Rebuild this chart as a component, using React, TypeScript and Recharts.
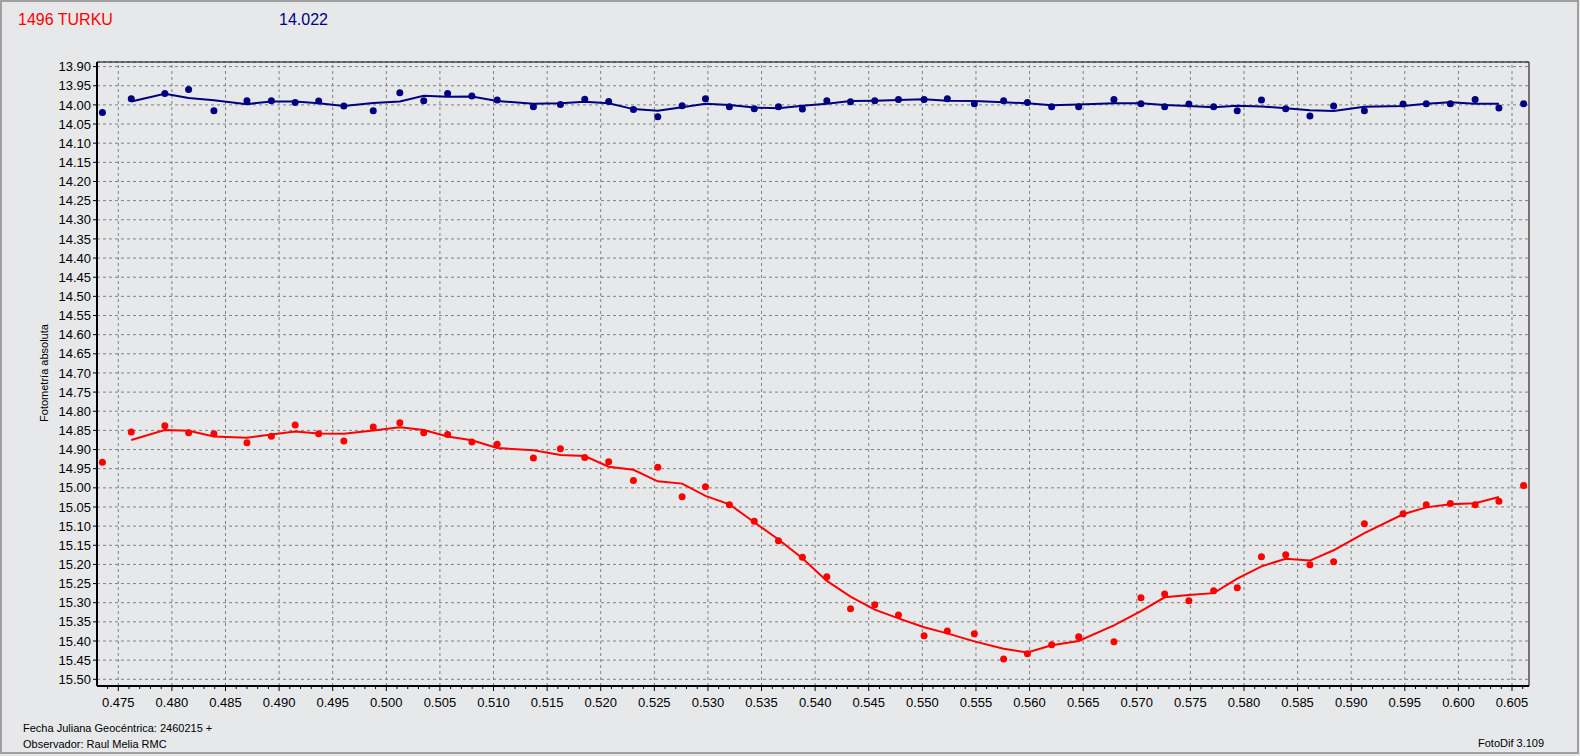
import {
  ComposedChart,
  Scatter,
  Line,
  XAxis,
  YAxis,
  CartesianGrid,
  ReferenceLine,
  ReferenceArea,
} from "recharts";

// Fractional Julian date (2460215 +) of every frame
const jd = [
  0.47352, 0.47621, 0.47934, 0.48156, 0.48392, 0.487, 0.48928, 0.4915, 0.49369, 0.49604,
  0.49878, 0.50126, 0.50349, 0.50572, 0.50798, 0.51034, 0.51372, 0.51624, 0.51851, 0.52074,
  0.52305, 0.52532, 0.52759, 0.52977, 0.532, 0.53432, 0.53658, 0.53881, 0.54109, 0.5433,
  0.54556, 0.54777, 0.55016, 0.55233, 0.55485, 0.55758, 0.5598, 0.56206, 0.56458, 0.56787,
  0.57039, 0.5726, 0.57486, 0.57717, 0.57937, 0.58163, 0.58389, 0.58615, 0.58836, 0.59123,
  0.59484, 0.597, 0.59925, 0.60156, 0.60378, 0.60608,
];

// 1496 Turku, absolute magnitude
const turkuMag = [
  14.933, 14.854, 14.838, 14.856, 14.859, 14.882, 14.865, 14.836, 14.859, 14.878,
  14.841, 14.83, 14.856, 14.861, 14.88, 14.886, 14.922, 14.898, 14.921, 14.932,
  14.981, 14.946, 15.023, 14.997, 15.044, 15.087, 15.138, 15.181, 15.232, 15.316,
  15.305, 15.332, 15.386, 15.374, 15.381, 15.447, 15.433, 15.41, 15.389, 15.402,
  15.287, 15.277, 15.295, 15.269, 15.261, 15.18, 15.175, 15.201, 15.193, 15.094,
  15.068, 15.044, 15.041, 15.044, 15.035, 14.994,
];

// comparison star (14.022)
const compMag = [
  14.02, 13.984, 13.97, 13.96, 14.015, 13.989, 13.989, 13.994, 13.99, 14.003,
  14.015, 13.968, 13.989, 13.97, 13.977, 13.987, 14.005, 13.999, 13.985, 13.991,
  14.012, 14.031, 14.002, 13.984, 14.005, 14.01, 14.005, 14.011, 13.989, 13.992,
  13.989, 13.986, 13.986, 13.984, 13.997, 13.989, 13.994, 14.005, 14.005, 13.986,
  13.997, 14.005, 13.998, 14.005, 14.015, 13.987, 14.01, 14.029, 14.003, 14.015,
  13.998, 13.997, 13.997, 13.986, 14.008, 13.997,
];

// smoothed curves, drawn from the 2nd to the next-to-last frame
const turkuSmooth = [
  14.875, 14.849, 14.851, 14.866, 14.869, 14.861, 14.853, 14.858, 14.859,
  14.85, 14.842, 14.849, 14.866, 14.876, 14.896, 14.902, 14.914, 14.917, 14.945,
  14.953, 14.983, 14.989, 15.021, 15.043, 15.09, 15.135, 15.184, 15.243, 15.284,
  15.318, 15.341, 15.364, 15.38, 15.401, 15.42, 15.43, 15.411, 15.4, 15.359,
  15.322, 15.286, 15.28, 15.275, 15.237, 15.205, 15.185, 15.19, 15.163, 15.118,
  15.069, 15.051, 15.043, 15.04, 15.024,
];
const compSmooth = [
  13.991, 13.971, 13.982, 13.988, 13.998, 13.991, 13.991, 13.996, 14.003,
  13.995, 13.991, 13.976, 13.979, 13.978, 13.99, 13.997, 13.996, 13.992, 13.996,
  14.011, 14.015, 14.006, 13.997, 14.0, 14.007, 14.009, 14.002, 13.997, 13.99,
  13.989, 13.987, 13.985, 13.989, 13.99, 13.993, 13.996, 14.001, 13.999, 13.996,
  13.996, 14.0, 14.003, 14.006, 14.002, 14.004, 14.009, 14.014, 14.016, 14.005,
  14.003, 13.997, 13.993, 13.997, 13.997,
];

const jdLabels = [
  0.475, 0.48, 0.485, 0.49, 0.495, 0.5, 0.505, 0.51, 0.515, 0.52, 0.525, 0.53, 0.535, 0.54,
  0.545, 0.55, 0.555, 0.56, 0.565, 0.57, 0.575, 0.58, 0.585, 0.59, 0.595, 0.6, 0.605,
];
const magTicks = [
  13.9, 13.95, 14.0, 14.05, 14.1, 14.15, 14.2, 14.25, 14.3, 14.35, 14.4, 14.45, 14.5,
  14.55, 14.6, 14.65, 14.7, 14.75, 14.8, 14.85, 14.9, 14.95, 15.0, 15.05, 15.1, 15.15,
  15.2, 15.25, 15.3, 15.35, 15.4, 15.45, 15.5,
];

const X_DOMAIN: [number, number] = [0.473014, 0.606585];
const Y_DOMAIN: [number, number] = [13.888, 15.5175];
const minorTicks = Array.from({ length: 133 }, (_, i) => +(0.474 + i * 0.001).toFixed(3));

const FONT = "'Liberation Sans', Arial, sans-serif";
const RED = "#ff0000";
const NAVY = "#000080";
const BG = "#e7e8ea";

const turkuPts = jd.map((x, i) => ({ x, y: turkuMag[i] }));
const compPts = jd.map((x, i) => ({ x, y: compMag[i] }));
const turkuLine = turkuSmooth.map((y, i) => ({ x: jd[i + 1], y }));
const compLine = compSmooth.map((y, i) => ({ x: jd[i + 1], y }));

function JdTick(props: any) {
  const { x, y, payload } = props;
  const v = payload.value;
  const major = Math.abs(v * 200 - Math.round(v * 200)) < 1e-6;
  return (
    <g>
      <line x1={x} x2={x} y1={y} y2={y + (major ? 5 : 3)} stroke="#000" />
      {major && (
        <text x={x} y={y + 21} textAnchor="middle" fontSize={13} fontFamily={FONT} fill="#000">
          {v.toFixed(3)}
        </text>
      )}
    </g>
  );
}

const dot = (color: string) => (p: any) => <circle cx={p.cx} cy={p.cy} r={3.5} fill={color} />;

export default function App() {
  return (
    <div style={{ position: "fixed", left: 0, top: 0, width: 1580, height: 756, background: BG }}>
      <ComposedChart width={1580} height={756} margin={{ top: 62, right: 51, bottom: 0, left: 0 }}>
        <CartesianGrid vertical={false} stroke="#808080" strokeDasharray="3 3" />
        {jdLabels.map((t) => (
          <ReferenceLine key={t} x={t} stroke="#808080" strokeDasharray="3 3" />
        ))}
        <ReferenceArea
          x1={X_DOMAIN[0]}
          x2={X_DOMAIN[1]}
          y1={Y_DOMAIN[0]}
          y2={Y_DOMAIN[1]}
          fill="none"
          stroke="#000"
          strokeOpacity={1}
        />
        <XAxis
          type="number"
          dataKey="x"
          domain={X_DOMAIN}
          ticks={minorTicks}
          interval={0}
          allowDataOverflow
          height={70}
          tickSize={0}
          tickMargin={0}
          tickLine={false}
          tick={<JdTick />}
          axisLine={{ stroke: "#000", strokeWidth: 2 }}
        />
        <YAxis
          type="number"
          domain={Y_DOMAIN}
          reversed
          ticks={magTicks}
          interval={0}
          allowDataOverflow
          width={97}
          tickSize={4}
          tickMargin={2}
          tickFormatter={(v: number) => v.toFixed(2)}
          tick={{ fill: "#000", fontSize: 13, fontFamily: FONT }}
          tickLine={{ stroke: "#000" }}
          axisLine={{ stroke: "#000", strokeWidth: 2 }}
        />
        <Scatter data={compPts} dataKey="y" fill={NAVY} shape={dot(NAVY)} isAnimationActive={false} />
        <Scatter data={turkuPts} dataKey="y" fill={RED} shape={dot(RED)} isAnimationActive={false} />
        <Line
          data={compLine}
          dataKey="y"
          type="linear"
          stroke={NAVY}
          strokeWidth={2}
          dot={false}
          activeDot={false}
          isAnimationActive={false}
        />
        <Line
          data={turkuLine}
          dataKey="y"
          type="linear"
          stroke={RED}
          strokeWidth={2}
          dot={false}
          activeDot={false}
          isAnimationActive={false}
        />
      </ComposedChart>

      <svg
        width={1580}
        height={756}
        style={{ position: "absolute", left: 0, top: 0, pointerEvents: "none" }}
        fontFamily={FONT}
      >
        <rect x={1} y={1} width={1577} height={752} fill="none" stroke="#a0a0a0" strokeWidth={2} />
        <text x={18} y={25} fontSize={16} fill={RED}>1496 TURKU</text>
        <text x={279} y={25} fontSize={16} fill={NAVY}>14.022</text>
        <text x={48} y={373} fontSize={11} fill="#000" textAnchor="middle" transform="rotate(-90 48 373)">
          Fotometría absoluta
        </text>
        <text x={23} y={732} fontSize={11} fill="#000">Fecha Juliana Geocéntrica: 2460215 +</text>
        <text x={23} y={748} fontSize={11} fill="#000">Observador: Raul Melia RMC</text>
        <text x={1478} y={747} fontSize={11} fill="#000">FotoDif 3.109</text>
      </svg>
    </div>
  );
}
